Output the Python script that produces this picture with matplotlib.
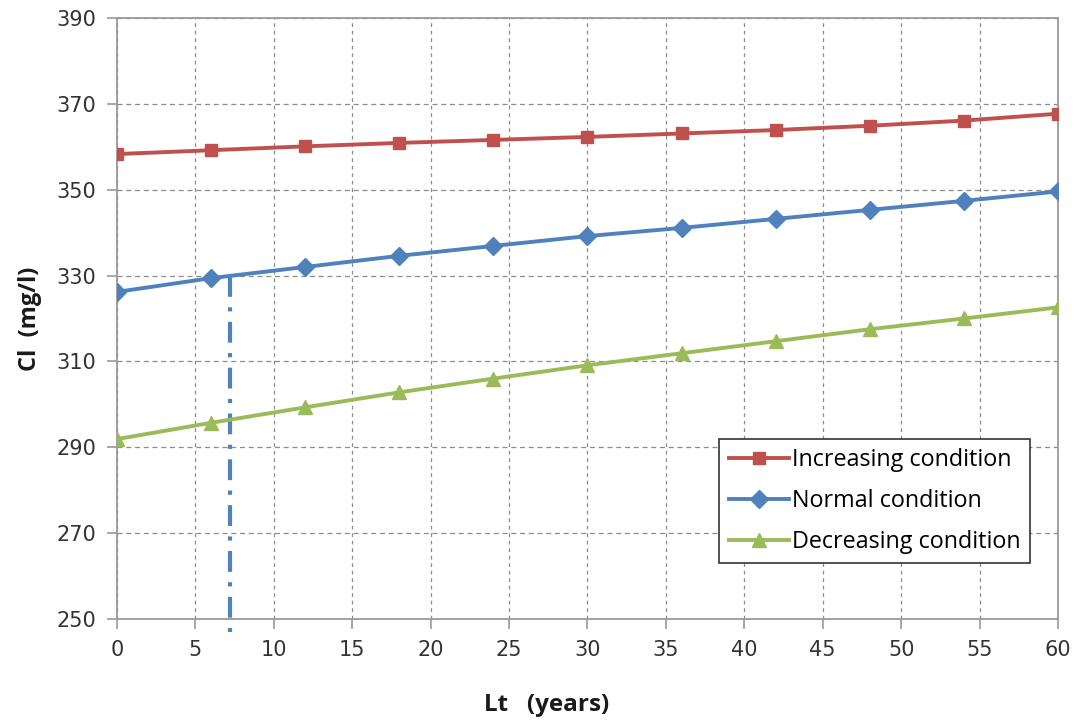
import matplotlib
matplotlib.use("Agg")
import matplotlib.pyplot as plt

# Lifetime (years) and chloride concentration under three conditions
years = [0, 6, 12, 18, 24, 30, 36, 42, 48, 54, 60]
increasing = [358.3, 359.2, 360.1, 360.9, 361.6, 362.3, 363.1, 363.9, 364.9, 366.1, 367.7]
normal = [326.2, 329.4, 332.0, 334.6, 336.9, 339.2, 341.1, 343.2, 345.3, 347.4, 349.6]
decreasing = [291.9, 295.7, 299.3, 302.8, 306.0, 309.1, 311.9, 314.7, 317.5, 320.0, 322.6]

# Design lifetime
marker_year = 7.2
marker_value = 329.8

x_ticks = list(range(0, 61, 5))
y_ticks = list(range(250, 391, 20))

fig = plt.figure(figsize=(10.79, 7.20), dpi=100)
ax = fig.add_axes([0.1084, 0.1403, 0.8721, 0.8347])

red = "#C0504D"
blue = "#4F81BD"
green = "#9BBB59"

ax.plot(years, increasing, color=red, lw=2.8, marker="s", ms=9,
        label="Increasing condition", zorder=4)
ax.plot(years, normal, color=blue, lw=2.8, marker="D", ms=9,
        label="Normal condition", zorder=4)
ax.plot(years, decreasing, color=green, lw=2.8, marker="^", ms=10.5,
        label="Decreasing condition", zorder=4)

# Vertical dash-dot guide from the normal curve down past the axis
ax.plot([marker_year, marker_year], [marker_value, 247.0], color=blue, lw=3,
        linestyle=(0, (5, 2.5, 1, 2.5)), clip_on=False, zorder=3)

ax.set_xlim(0, 60)
ax.set_ylim(250, 390)
ax.set_xticks(x_ticks)
ax.set_yticks(y_ticks)

ax.grid(axis="y", color="#8c8c8c", linestyle=(0, (4, 3)), lw=0.9)
ax.grid(axis="x", color="#8c8c8c", linestyle=(0, (3, 3)), lw=0.9)
ax.set_axisbelow(True)

for side in ["left", "right", "top", "bottom"]:
    ax.spines[side].set_color("#9a9a9a")
    ax.spines[side].set_linewidth(1.3)

ax.tick_params(axis="both", colors="#9a9a9a", length=7, width=1.2,
               labelcolor="#333333", labelsize=15, pad=8)
for lbl in ax.get_xticklabels() + ax.get_yticklabels():
    lbl.set_family("DejaVu Sans")

ax.set_xlabel("Lt   (years)", fontsize=17.5, fontweight="bold",
              family="Open Sans", color="#1a1a1a")
ax.xaxis.set_label_coords(0.457, -0.143)
ax.xaxis.label.set_verticalalignment("center")

ax.set_ylabel("Cl  (mg/l)", fontsize=17, fontweight="bold",
              family="Open Sans", color="#1a1a1a")
ax.yaxis.set_label_coords(-0.0925, 0.5)
ax.yaxis.label.set_verticalalignment("center")

leg = ax.legend(loc="lower right", bbox_to_anchor=(0.970, 0.093),
                prop={"family": "Open Sans", "size": 16.8},
                frameon=True, fancybox=False, edgecolor="#333333",
                handlelength=2.6, handletextpad=0.1, labelspacing=0.72,
                borderpad=0.4, borderaxespad=0)
leg.get_frame().set_linewidth(1.2)
leg.get_frame().set_alpha(1)

fig.savefig("out.png", dpi=100, facecolor="white")
